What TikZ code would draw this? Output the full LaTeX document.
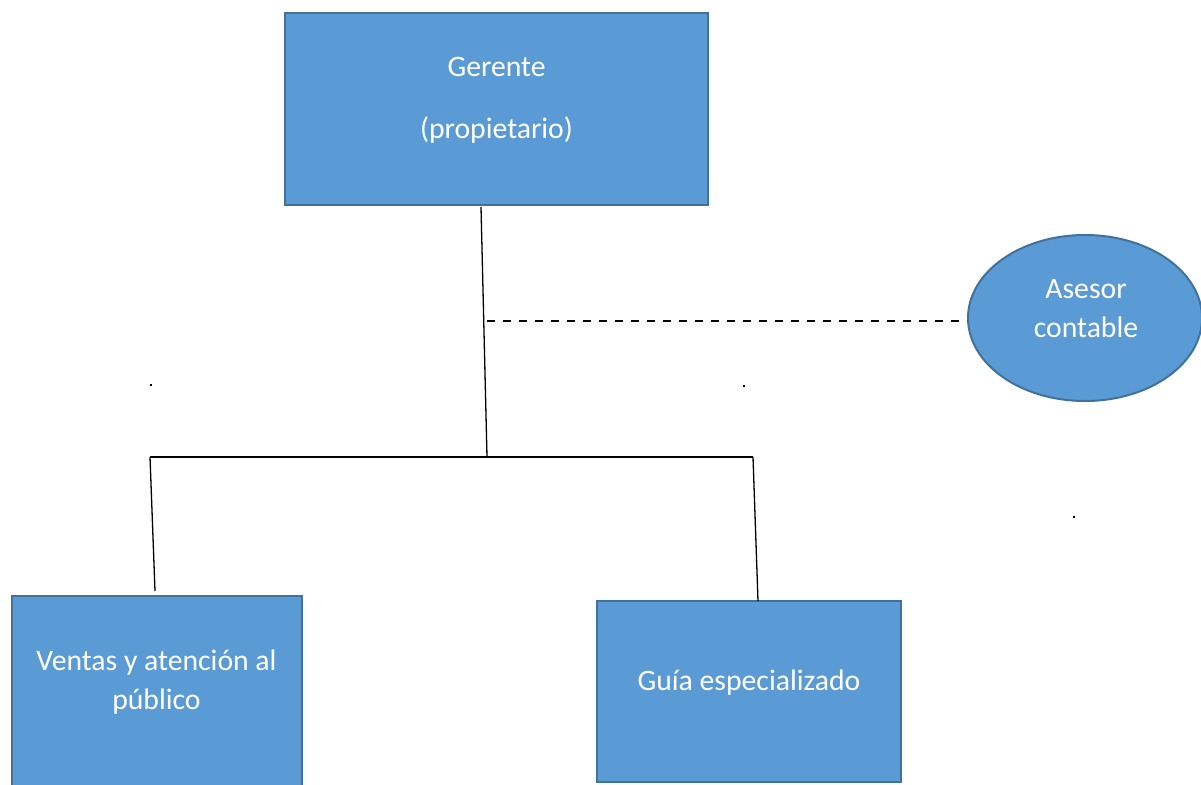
\documentclass[tikz,border=0pt]{standalone}
\usepackage{fontspec}
\setmainfont{Carlito}
\usetikzlibrary{shapes.geometric,calc}
\definecolor{boxfill}{HTML}{5B9BD5}
\definecolor{boxline}{HTML}{41719C}
\begin{document}
\begin{tikzpicture}[x=1pt,y=-1pt,
  box/.style={draw=boxline,fill=boxfill,line width=2pt,inner sep=0pt},
  lbl/.style={text=white,font=\fontsize{29.7}{36}\selectfont,anchor=base,inner sep=0pt},
  conn/.style={draw=black,line width=1.3pt},
  dashconn/.style={draw=black,line width=2.4pt,dash pattern=on 8pt off 8pt}]
\useasboundingbox (0,0) rectangle (1201,784);
\fill[white] (0,0) rectangle (1201,784);
% boxes
\node[box,minimum width=423pt,minimum height=192pt] (gerente) at (496.5,109) {};
\node[lbl] (gerente1) at (496.5,77) {Gerente};
\node[lbl] (gerente2) at (496.5,138) {(propietario)};
\node[box,ellipse,minimum width=234pt,minimum height=166pt] (asesor) at (1085,318) {};
\node[lbl] (asesor1) at (1086,298) {Asesor};
\node[lbl] (asesor2) at (1086,337) {contable};
\node[box,minimum width=290pt,minimum height=220pt] (ventas) at (156.5,706) {};
\node[lbl] (ventas1) at (156.5,670) {Ventas y atención al};
\node[lbl] (ventas2) at (156.5,709) {público};
\node[box,minimum width=304pt,minimum height=181pt] (guia) at (749,691.5) {};
\node[lbl] (guia1) at (749,690) {Guía especializado};
% connectors
\coordinate (gtop) at (481,207);
\coordinate (j) at (487,457);
\coordinate (jl) at (150,457);
\coordinate (jr) at (753,457);
\coordinate (vtop) at (155,591);
\coordinate (grtop) at (758,601);
\coordinate (dstart) at (487,321);
\draw[conn] (gtop) -- (j);
\draw[conn] (jl) -- (jr);
\draw[conn] (jl) -- (vtop);
\draw[conn] (jr) -- (grtop);
\draw[dashconn] (dstart) -- (dstart -| asesor.west);
% stray marks
\fill[black] (149.5,383.5) rectangle (151.5,385.5);
\fill[black] (742.5,384.5) rectangle (744.5,386.5);
\fill[black] (1072.5,515.5) rectangle (1074.5,517.5);
\end{tikzpicture}
\end{document}
